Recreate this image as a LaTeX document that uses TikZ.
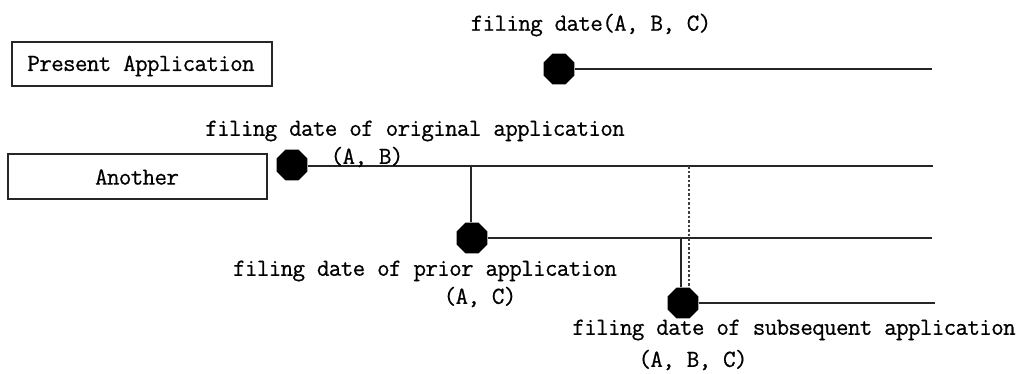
\documentclass[tikz,border=0pt]{standalone}
\usepackage{fontspec}
\setmonofont[LetterSpace=-3,FakeBold=0.6]{Latin Modern Mono}
\usetikzlibrary{shapes.geometric}
\begin{document}
\begin{tikzpicture}[x=1pt,y=-1pt,
  lbl/.style={font=\fontsize{24.5}{24.5}\selectfont\ttfamily, inner sep=0pt},
  appbox/.style={draw, line width=1.6pt, draw=black!85, inner sep=0pt},
  dot/.style={regular polygon, regular polygon sides=8, fill=black, draw=none, minimum size=33.5pt, inner sep=0pt},
  tl/.style={line width=1.8pt, draw=black!85},
  dl/.style={line width=1.3pt, draw=black!75, dash pattern=on 2.5pt off 2pt}]
\useasboundingbox (0,0) rectangle (1029,373);

% boxes
\node[appbox, minimum width=260pt, minimum height=44pt] (present) at (142,64) {};
\node[lbl] (presentT) at (141,66) {Present Application};
\node[appbox, minimum width=259pt, minimum height=45pt] (another) at (137.5,176.5) {};
\node[lbl] (anotherT) at (137,177) {Another};

% dots
\node[dot] (d1) at (559,69) {};
\node[dot] (d2) at (292,165) {};
\node[dot] (d3) at (472,238) {};
\node[dot] (d4) at (683,303) {};

% line ends
\coordinate (e1) at (932,69);
\coordinate (e2) at (933,166);
\coordinate (e3) at (932,238);
\coordinate (e4) at (935,303);
\coordinate (j1) at (471,166);
\coordinate (j2) at (681,238);
\coordinate (dt) at (689,166);

% connectors
\draw[tl] (d1.east) -- (e1);
\draw[tl] (d2.east |- e2) -- (e2);
\draw[tl] (d3.east) -- (e3);
\draw[tl] (d4.east) -- (e4);
\draw[tl] (j1) -- (j1 |- d3.north);
\draw[tl] (j2) -- (j2 |- d4.north);
\draw[dl] (dt) -- (dt |- d4.north);

% labels
\node[lbl] (t1) at (591,25) {filing date(A, B, C)};
\node[lbl] (t2) at (415,131) {filing date of original application};
\node[lbl] (t2b) at (367,157) {(A, B)};
\node[lbl] (t3) at (425,271) {filing date of prior application};
\node[lbl] (t3b) at (480,297) {(A, C)};
\node[lbl] (t4) at (794,330) {filing date of subsequent application};
\node[lbl] (t4b) at (693,360) {(A, B, C)};
\end{tikzpicture}
\end{document}
